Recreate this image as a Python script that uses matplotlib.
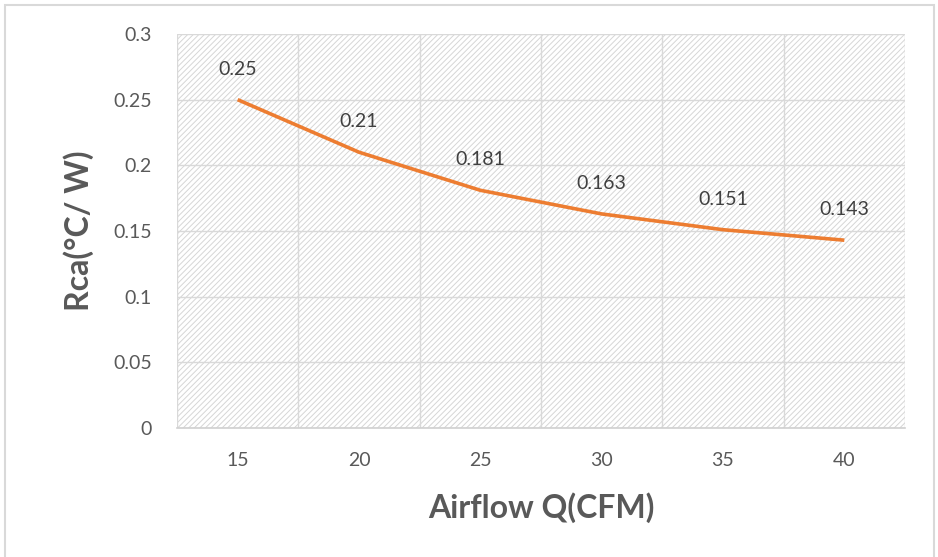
import matplotlib
matplotlib.use('Agg')
import matplotlib.pyplot as plt
from matplotlib.patches import Rectangle
import numpy as np

# data
airflow = [15, 20, 25, 30, 35, 40]
rca = [0.25, 0.21, 0.181, 0.163, 0.151, 0.143]
labels = ['0.25', '0.21', '0.181', '0.163', '0.151', '0.143']

plt.rcParams['font.family'] = ['Lato', 'DejaVu Sans']
plt.rcParams['hatch.color'] = '#d6d6d6'
plt.rcParams['hatch.linewidth'] = 0.7

text_col = '#595959'
grid_col = '#d9d9d9'

fig = plt.figure(figsize=(9.38, 5.57), dpi=100)
ax = fig.add_axes([177 / 938, 1 - 428 / 557, (905 - 177) / 938, (428 - 34) / 557])

# hatched plot area
ax.patch.set_facecolor('white')
ax.patch.set_hatch('//////')
ax.patch.set_edgecolor('#d6d6d6')
ax.patch.set_linewidth(0)

x = np.arange(len(airflow))
ax.plot(x, rca, color='#ED7D31', lw=2.6, solid_capstyle='butt', zorder=3)
for xi, yi, lab in zip(x, rca, labels):
    ax.annotate(lab, (xi, yi), xytext=(0, 22), textcoords='offset points',
                ha='center', va='center', fontsize=14, color='#404040')

ax.set_xlim(-0.5, len(airflow) - 0.5)
ax.set_ylim(0, 0.3)
ax.set_xticks(x)
ax.set_xticklabels([str(a) for a in airflow])
ax.set_xticks(np.arange(-0.5, len(airflow)), minor=True)
ax.set_yticks(np.arange(0, 0.301, 0.05))
ax.set_yticklabels(['0', '0.05', '0.1', '0.15', '0.2', '0.25', '0.3'])
ax.tick_params(which='both', length=0)
ax.tick_params(axis='x', pad=17, labelsize=14, labelcolor=text_col)
ax.tick_params(axis='y', pad=18, labelsize=14, labelcolor=text_col)

ax.grid(axis='y', which='major', color=grid_col, lw=1)
ax.grid(axis='x', which='minor', color=grid_col, lw=1)
ax.set_axisbelow(True)
for s in ['top', 'right', 'left']:
    ax.spines[s].set_visible(False)
ax.spines['bottom'].set_color('#d0d0d0')
ax.spines['bottom'].set_linewidth(1.2)

ax.set_xlabel('Airflow Q(CFM)', fontsize=23, fontweight='bold', color=text_col, labelpad=17)
ax.set_ylabel('Rca(°C/ W)', fontsize=23, fontweight='bold', color=text_col, labelpad=14)

# chart frame
fig.patches.append(Rectangle((5 / 938, -0.05), 929 / 938, 1.05 - 5 / 557,
                             transform=fig.transFigure, fill=False,
                             edgecolor='#d9d9d9', lw=1.5))

fig.savefig('out.png', dpi=100, facecolor='white')
